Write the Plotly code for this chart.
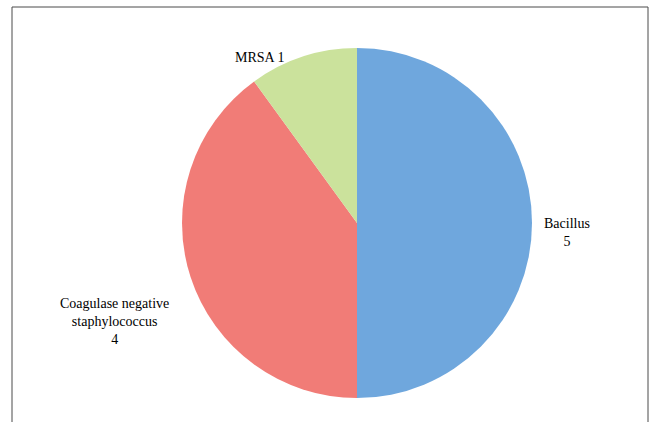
import plotly.graph_objects as go

categories = ["Bacillus", "Coagulase negative<br>staphylococcus", "MRSA"]
values = [5, 4, 1]
colors = ["#6fa7dd", "#f17c77", "#cbe29c"]

# label layout (paper coords, center of text) and line-break style
label_pos = [(567 / 660, 1 - 232 / 422), (114 / 660, 1 - 321 / 422), (259 / 660, 1 - 58 / 422)]
label_sep = ["<br>", "<br>", " "]

fig = go.Figure(go.Pie(
    labels=categories,
    values=values,
    sort=False,
    direction="clockwise",
    rotation=0,
    marker=dict(colors=colors, line=dict(width=0)),
    textinfo="none",
    hoverinfo="label+value",
    showlegend=False,
    domain=dict(x=[182 / 660, 532 / 660], y=[1 - 398 / 422, 1 - 48 / 422]),
))

annotations = []
for cat, val, (x, y), sep in zip(categories, values, label_pos, label_sep):
    annotations.append(dict(
        x=x, y=y, xref="paper", yref="paper", xanchor="center", yanchor="middle",
        text=f"{cat}{sep}{val}", showarrow=False, align="center",
        font=dict(family="Liberation Serif, DejaVu Serif, serif", size=14, color="#000000"),
    ))

fig.update_layout(
    width=660, height=422,
    margin=dict(l=0, r=0, t=0, b=0),
    paper_bgcolor="white", plot_bgcolor="white",
    annotations=annotations,
    shapes=[dict(type="rect", xref="paper", yref="paper",
                 x0=12 / 660, x1=648 / 660, y0=-0.05, y1=1 - 7 / 422,
                 line=dict(color="#4a4a4a", width=1))],
)

fig.write_html("out.html")
